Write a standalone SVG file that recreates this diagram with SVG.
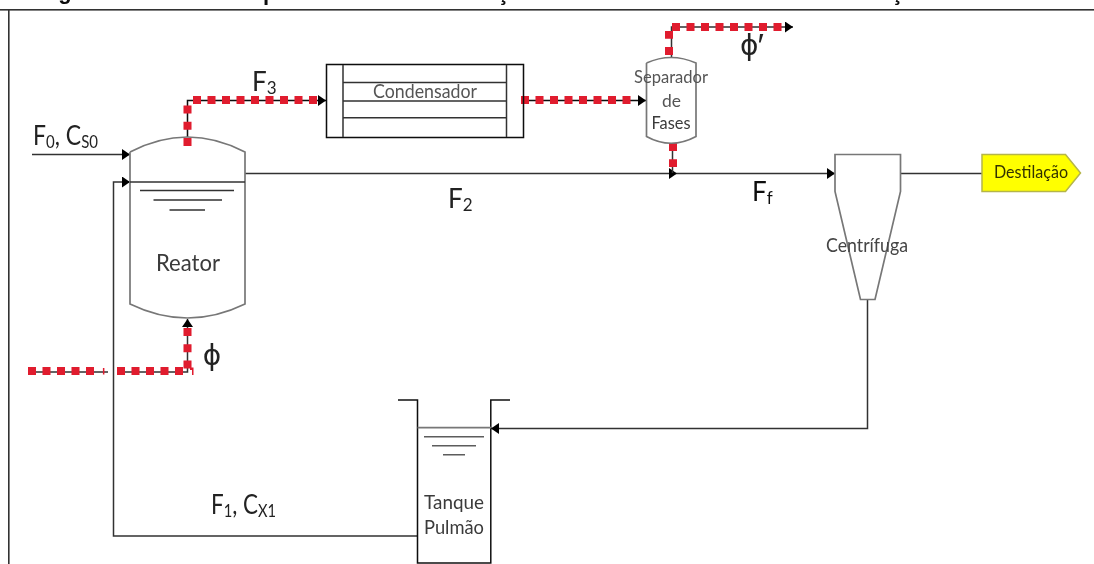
<svg xmlns="http://www.w3.org/2000/svg" width="1094" height="564" viewBox="0 0 1094 564">
<style>
text{font-family:Lato,"Noto Sans","Open Sans",sans-serif;fill:#3a3a3a}
g{filter:url(#soft)}
.cap{font-family:"Liberation Sans",Arial,sans-serif;font-weight:bold;font-size:22px;fill:#111}
.ln{fill:none;stroke:#333;stroke-width:1.5}
.dk{fill:none;stroke:#111;stroke-width:1.5}
.gr{fill:none;stroke:#777;stroke-width:1.7}
.rh{fill:none;stroke:#e01b2e;stroke-width:8;stroke-dasharray:8 6.5}
.rv{fill:none;stroke:#e01b2e;stroke-width:8;stroke-dasharray:8 8.2}
.lab{font-size:26px;fill:#222}
.sub{font-size:17px}
</style>
<defs>
<filter id="soft" x="-5%" y="-5%" width="110%" height="110%" filterUnits="objectBoundingBox"><feGaussianBlur stdDeviation="0.4"/></filter>
<marker id="ah" markerUnits="userSpaceOnUse" markerWidth="8" markerHeight="11" refX="8" refY="5.500" orient="auto"><path d="M0,0L8,5.500L0,11Z" fill="#000"/></marker>
</defs>
<g id="caption-fragment">
<rect x="0" y="9" width="1094" height="1.600" fill="#333"/>
<rect x="8" y="9" width="1.600" height="555" fill="#333"/>
<text class="cap" x="65" y="-1" text-anchor="middle">g</text>
<text class="cap" x="263" y="0">p</text>
<text class="cap" x="503" y="0" text-anchor="middle">ç</text>
<text class="cap" x="897" y="0" text-anchor="middle">ç</text>
</g>
<g id="connectors">
<path class="ln" d="M32,154.500H130" marker-end="url(#ah)"/>
<path class="ln" d="M417.500,536H113.500V182H130" marker-end="url(#ah)"/>
<path class="ln" d="M245,173.500H677" marker-end="url(#ah)"/>
<path class="ln" d="M677,173.500H835" marker-end="url(#ah)"/>
<path class="ln" d="M900,173.500H982"/>
<path class="ln" d="M867.500,300V428.500H491" marker-end="url(#ah)"/>
<path class="dk" d="M187.500,137V100.500H326" marker-end="url(#ah)"/>
<path class="dk" d="M523,100.500H646" marker-end="url(#ah)"/>
<path class="ln" d="M671.500,58V27H793" marker-end="url(#ah)"/>
<path class="ln" d="M672.500,143V173"/>
<path class="ln" d="M30,372H108M117,372H187.500V319" marker-end="url(#ah)"/>
<path class="rv" d="M187.500,146V102"/>
<path class="rh" d="M193,100H320"/>
<path class="rh" d="M521,100H634"/>
<path class="rv" d="M669,55V31"/>
<path class="rh" d="M672,27H785"/>
<path class="rv" d="M673,143V167"/>
<path class="rh" d="M28,371H95"/>
<path d="M102.900,368H104.400V374.500H102.900Z" fill="#e01b2e"/>
<path class="rh" d="M117,371H184"/>
<path class="rv" d="M187.500,328V369"/>
<path d="M190,367.500H193.500V375H192V370H190Z" fill="#e01b2e"/>
</g>
<g id="reator">
<path class="gr" d="M130,152V304Q187.500,332 245,304V152Q187.500,122 130,152"/>
<path class="ln" d="M130,182H245"/>
<path class="ln" d="M140,190.500H234M153.500,200H222M169.500,210H205"/>
<text x="188" y="271" text-anchor="middle" font-size="24" textLength="64" lengthAdjust="spacingAndGlyphs">Reator</text>
</g>
<g id="condensador">
<rect class="dk" x="326.500" y="64.500" width="197" height="73" fill="#fff"/>
<path class="ln" d="M343,65V137M506.500,65V137M343,82.500H506.500M343,101H506.500M343,117.700H506.500"/>
<text x="425" y="97.500" text-anchor="middle" font-size="19" textLength="104" lengthAdjust="spacingAndGlyphs" style="fill:#555">Condensador</text>
</g>
<g id="separador">
<path class="gr" d="M646.500,63V136.500Q671,150 696,136.500V63Q671,52 646.500,63"/>
<text x="671" y="83" text-anchor="middle" font-size="17" textLength="74" lengthAdjust="spacingAndGlyphs" style="fill:#555">Separador</text>
<text x="671.500" y="106.500" text-anchor="middle" font-size="17" textLength="19" lengthAdjust="spacingAndGlyphs" style="fill:#555">de</text>
<text x="671" y="129" text-anchor="middle" font-size="17" textLength="39" lengthAdjust="spacingAndGlyphs">Fases</text>
</g>
<g id="centrifuga">
<path class="gr" d="M835,191.500V154.500H900.500V191.500L875,299.500H860.500Z"/>
<text x="867" y="252" text-anchor="middle" font-size="19" textLength="82" lengthAdjust="spacingAndGlyphs" style="fill:#444">Centrífuga</text>
</g>
<g id="destilacao">
<path d="M982,154.500H1065.500L1080.500,173L1065.500,191.500H982Z" fill="#ffff00" stroke="#b5b54a" stroke-width="1.500"/>
<text x="1031" y="178" text-anchor="middle" font-size="17" textLength="74" lengthAdjust="spacingAndGlyphs" style="fill:#333300">Destilação</text>
</g>
<g id="tanque">
<path class="dk" d="M398,400H417.500V563H490.800V400H510"/>
<path class="gr" d="M417.500,427.700H491"/>
<path class="ln" d="M424,436.700H484M432,445.700H476M443,454.700H465" stroke-opacity=".8"/>
<text x="454" y="508.500" text-anchor="middle" font-size="19" textLength="60" lengthAdjust="spacingAndGlyphs">Tanque</text>
<text x="454" y="533.500" text-anchor="middle" font-size="19" textLength="60" lengthAdjust="spacingAndGlyphs">Pulmão</text>
</g>
<g id="labels">
<text class="lab" x="252" y="91">F<tspan class="sub" dy="3">3</tspan></text>
<text class="lab" x="33" y="145" textLength="65" lengthAdjust="spacingAndGlyphs">F<tspan class="sub" dy="3">0</tspan><tspan dy="-3">, C</tspan><tspan class="sub" dy="3">S0</tspan></text>
<text class="lab" x="448" y="208">F<tspan class="sub" dy="3">2</tspan></text>
<text class="lab" x="752" y="201" style="fill:#111">F<tspan class="sub" dy="3">f</tspan></text>
<text class="lab" x="211" y="514" textLength="65" lengthAdjust="spacingAndGlyphs">F<tspan class="sub" dy="3">1</tspan><tspan dy="-3">, C</tspan><tspan class="sub" dy="3">X1</tspan></text>
<text x="212" y="365" text-anchor="middle" font-size="28" style='font-family:"DejaVu Sans",sans-serif;fill:#222'>ϕ</text>
<text x="740" y="55" font-size="28" style='font-family:"DejaVu Sans",sans-serif;fill:#222'>ϕ<tspan font-size="34" dx="-1" dy="2" style='font-family:"Liberation Sans",sans-serif'>′</tspan></text>
</g>
</svg>
